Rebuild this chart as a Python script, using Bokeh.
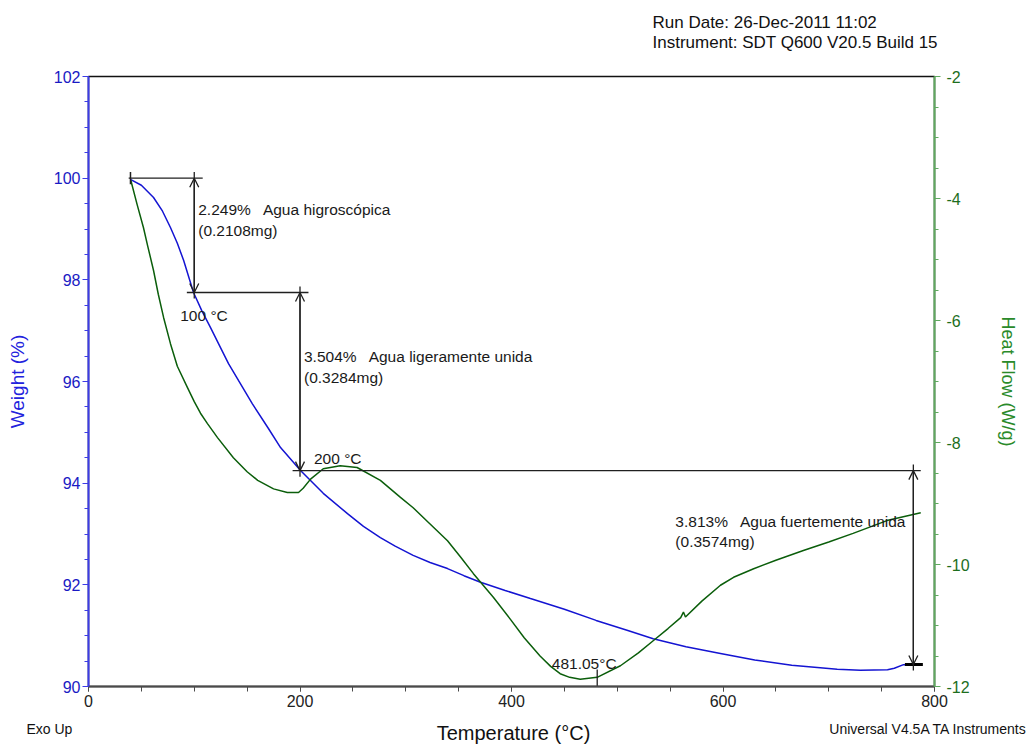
from bokeh.plotting import figure
from bokeh.layouts import column
from bokeh.models import (Range1d, LinearAxis, SingleIntervalTicker, Label,
                          Arrow, OpenHead, PrintfTickFormatter)
from bokeh.embed import file_html
from bokeh.resources import INLINE

# ---------------- data ----------------
temp_w = [40, 50, 61.5, 70, 77.5, 84, 90, 99.3, 107, 115.4, 124, 132.4, 141.8,
          155, 170, 181.6, 200.5, 222, 244.9, 260, 276, 290, 307, 323, 339.5,
          355, 370.7, 394, 417.9, 450, 480, 510, 534, 565, 597.6, 630, 665,
          708, 730, 755.6, 762, 770.7, 780]
weight = [99.97, 99.86, 99.62, 99.35, 99.03, 98.72, 98.38, 97.75, 97.40, 97.06,
          96.70, 96.35, 96.02, 95.56, 95.08, 94.70, 94.25, 93.80, 93.40, 93.15,
          92.93, 92.76, 92.58, 92.44, 92.32, 92.18, 92.05, 91.89, 91.73, 91.52,
          91.30, 91.10, 90.94, 90.78, 90.65, 90.52, 90.42, 90.34, 90.32, 90.33,
          90.36, 90.43, 90.43]

temp_hf = [40, 46, 52, 56, 61.5, 66, 71, 77.5, 84, 93.6, 100, 105.9, 112.5, 122,
           137, 150, 160, 175, 188, 198.6, 203, 210, 222, 238, 254, 276, 295,
           307, 322, 339.5, 352, 364, 383, 399, 412, 427, 437, 446, 455, 465,
           481, 503, 520, 534, 548, 560, 562.6, 564.5, 580, 597.6, 610, 629,
           650, 676, 700, 723, 755, 787]
heat_flow = [-3.70, -4.10, -4.48, -4.78, -5.18, -5.57, -5.95, -6.38, -6.75,
             -7.10, -7.33, -7.52, -7.69, -7.92, -8.25, -8.48, -8.62, -8.76,
             -8.82, -8.82, -8.75, -8.60, -8.43, -8.38, -8.41, -8.62, -8.90,
             -9.07, -9.32, -9.61, -9.88, -10.15, -10.54, -10.90, -11.20, -11.50,
             -11.67, -11.79, -11.85, -11.88, -11.85, -11.66, -11.45, -11.25,
             -11.05, -10.87, -10.78, -10.86, -10.60, -10.34, -10.21, -10.07,
             -9.93, -9.77, -9.63, -9.49, -9.28, -9.15]

step_temp = [100.0, 200.0, 780.0]
step_top = [100.0, 97.751, 94.247]
step_bottom = [97.751, 94.247, 90.434]
step_pct = ["2.249%", "3.504%", "3.813%"]
step_name = ["Agua higroscópica", "Agua ligeramente unida",
             "Agua fuertemente unida"]
step_mass = ["(0.2108mg)", "(0.3284mg)", "(0.3574mg)"]
step_temp_text = ["100 °C", "200 °C"]
start_temp = 39.7
peak_temp = 481.05
peak_text = "481.05°C"

level_y = [100.0, 97.751, 94.247]
level_x0 = [38, 93, 193]
level_x1 = [108, 208, 787]
end_level_y = 90.434
end_level_x = [772, 789]

header_lines = ["Run Date: 26-Dec-2011 11:02",
                "Instrument: SDT Q600 V20.5 Build 15"]
footer_left = "Exo Up"
footer_right = "Universal V4.5A TA Instruments"
x_title = "Temperature (°C)"
y_title = "Weight (%)"
y2_title = "Heat Flow (W/g)"

x_ticks_interval = 200
w_ticks_interval = 2
hf_ticks_interval = 2

# ---------------- styling ----------------
FONT = "Liberation Sans"
BLUE_LINE = "#1414d2"
BLUE_AXIS = "#3c3ce6"
BLUE_TEXT = "#1a1ac4"
GREEN_LINE = "#0b5e0b"
GREEN_AXIS = "#5fa85f"
GREEN_TEXT = "#1d6e1d"
ANNO = "#202020"
W = 1029

p = figure(width=W, height=660, x_range=Range1d(0, 800),
           y_range=Range1d(90, 102), output_backend="svg",
           toolbar_location=None, min_border_left=88, min_border_right=95,
           min_border_top=20, min_border_bottom=30)
p.extra_y_ranges = {"hf": Range1d(-12, -2)}
p.xgrid.visible = False
p.ygrid.visible = False
p.outline_line_color = "#111111"
p.outline_line_width = 1.5

# left axis
ya = p.yaxis[0]
ya.ticker = SingleIntervalTicker(interval=w_ticks_interval, num_minor_ticks=4)
ya.axis_line_color = BLUE_AXIS
ya.axis_line_width = 2
ya.major_tick_line_color = BLUE_AXIS
ya.minor_tick_line_color = BLUE_AXIS
ya.major_tick_in = 0
ya.major_tick_out = 6
ya.minor_tick_in = 0
ya.minor_tick_out = 4
ya.major_label_standoff = 2
ya.major_label_text_color = BLUE_TEXT
ya.major_label_text_font = FONT
ya.major_label_text_font_size = "16px"
ya.axis_label = y_title
ya.axis_label_text_color = "#2222dd"
ya.axis_label_text_font = FONT
ya.axis_label_text_font_size = "19px"
ya.axis_label_text_font_style = "normal"
ya.axis_label_standoff = 23

# bottom axis
xa = p.xaxis[0]
xa.ticker = SingleIntervalTicker(interval=x_ticks_interval, num_minor_ticks=4)
xa.axis_line_color = "#4a4a4a"
xa.axis_line_width = 2
xa.major_tick_line_color = "#4a4a4a"
xa.minor_tick_line_color = "#4a4a4a"
xa.major_tick_in = 0
xa.major_tick_out = 5
xa.minor_tick_in = 0
xa.minor_tick_out = 5
xa.major_label_standoff = 3
xa.major_label_text_color = "#222222"
xa.major_label_text_font = FONT
xa.major_label_text_font_size = "16px"

# right axis
ra = LinearAxis(y_range_name="hf",
                ticker=SingleIntervalTicker(interval=hf_ticks_interval,
                                            num_minor_ticks=4),
                formatter=PrintfTickFormatter(format="%d"))
ra.axis_line_color = GREEN_AXIS
ra.axis_line_width = 2
ra.major_tick_line_color = GREEN_AXIS
ra.minor_tick_line_color = GREEN_AXIS
ra.major_tick_in = 0
ra.major_tick_out = 6
ra.minor_tick_in = 0
ra.minor_tick_out = 4
ra.major_label_standoff = 6
ra.major_label_text_color = GREEN_TEXT
ra.major_label_text_font = FONT
ra.major_label_text_font_size = "16px"
ra.axis_label = y2_title
ra.axis_label_text_color = "#2a8a2a"
ra.axis_label_text_font = FONT
ra.axis_label_text_font_size = "18px"
ra.axis_label_text_font_style = "normal"
ra.axis_label_standoff = 25
p.add_layout(ra, "right")

# curves
p.line(temp_w, weight, line_color=BLUE_LINE, line_width=1.5)
p.line(temp_hf, heat_flow, y_range_name="hf", line_color=GREEN_LINE,
       line_width=1.5)

# annotation lines
p.segment(x0=level_x0, y0=level_y, x1=level_x1, y1=level_y,
          line_color=ANNO, line_width=1.3)
p.segment(x0=[end_level_x[0]], y0=[end_level_y], x1=[end_level_x[1]],
          y1=[end_level_y], line_color="#000000", line_width=3)
p.segment(x0=[start_temp], y0=[step_top[0] + 0.12], x1=[start_temp],
          y1=[step_top[0] - 0.12], line_color=ANNO, line_width=1.5)
ext = 0.12
p.segment(x0=step_temp, y0=[t + ext for t in step_top], x1=step_temp,
          y1=[b - ext for b in step_bottom], line_color=ANNO, line_width=1.3)
for t, a, b in zip(step_temp, step_top, step_bottom):
    p.add_layout(Arrow(start=OpenHead(size=9, line_color=ANNO, line_width=1.3),
                       end=OpenHead(size=9, line_color=ANNO, line_width=1.3),
                       x_start=t, y_start=a, x_end=t, y_end=b,
                       line_color=ANNO, line_width=1.3))
p.segment(x0=[peak_temp], y0=[-11.72], x1=[peak_temp], y1=[-12.0],
          y_range_name="hf", line_color=ANNO, line_width=1.3)

# annotation texts
GAP = "\u00a0\u00a0 "
offs = [(4, -23), (4, -56), (-238, -42)]
for i in range(3):
    p.add_layout(Label(x=step_temp[i], y=step_top[i], x_offset=offs[i][0],
                       y_offset=offs[i][1],
                       text=step_pct[i] + GAP + step_name[i] + "\n" + step_mass[i],
                       text_baseline="top", text_align="left",
                       text_font=FONT, text_font_size="15.5px",
                       text_color="#1a1a1a"))
p.add_layout(Label(x=step_temp[0], y=step_bottom[0], x_offset=-14, y_offset=-15,
                   text=step_temp_text[0], text_baseline="top",
                   text_font=FONT, text_font_size="15.5px", text_color="#1a1a1a"))
p.add_layout(Label(x=step_temp[1], y=step_bottom[1], x_offset=14, y_offset=4,
                   text=step_temp_text[1], text_baseline="bottom",
                   text_font=FONT, text_font_size="15.5px", text_color="#1a1a1a"))
p.add_layout(Label(x=peak_temp, y=-12, y_range_name="hf", x_offset=-13,
                   y_offset=15, text=peak_text, text_baseline="bottom",
                   text_align="center", text_font=FONT, text_font_size="15.5px",
                   text_color="#1a1a1a"))


# header / footer strips (pixel coordinates, y from the top)
def strip(h):
    s = figure(width=W, height=h, x_range=Range1d(0, W), y_range=Range1d(h, 0),
               output_backend="svg", toolbar_location=None, min_border=0,
               min_border_left=0, min_border_right=0, min_border_top=0,
               min_border_bottom=0, x_axis_type=None, y_axis_type=None)
    s.frame_align = False
    s.outline_line_color = None
    s.grid.visible = False
    return s


top = strip(56)
top.add_layout(Label(x=652, y=22, text=header_lines[0], text_baseline="middle",
                     text_font=FONT, text_font_size="17px",
                     text_color="#111111"))
top.add_layout(Label(x=652, y=42, text=header_lines[1], text_baseline="middle",
                     text_font=FONT, text_font_size="17px",
                     text_color="#111111"))

bottom = strip(29)
bottom.add_layout(Label(x=26, y=12, text=footer_left, text_baseline="middle",
                        text_font=FONT, text_font_size="14px",
                        text_color="#111111"))
bottom.add_layout(Label(x=1027, y=12, text=footer_right, text_align="right",
                        text_baseline="middle", text_font=FONT,
                        text_font_size="14px", text_color="#111111"))
bottom.add_layout(Label(x=513, y=16, text=x_title, text_align="center",
                        text_baseline="middle", text_font=FONT,
                        text_font_size="20px", text_color="#111111"))

layout = column(top, p, bottom, spacing=0)
open("out.html", "w").write(file_html(layout, INLINE))
